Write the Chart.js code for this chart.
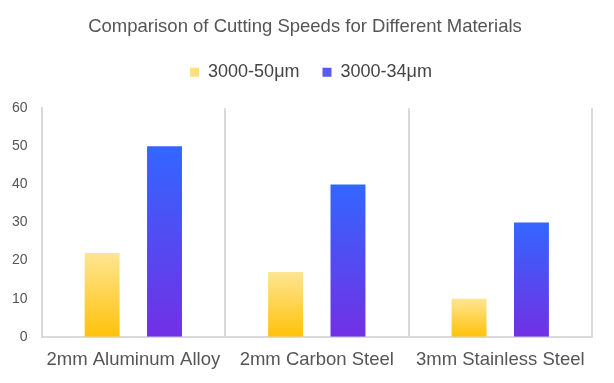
<!DOCTYPE html>
<html><head><meta charset="utf-8">
<script src="https://cdn.jsdelivr.net/npm/chart.js@4/dist/chart.umd.min.js"></script>
<style>html,body{margin:0;padding:0;background:#fff}#wrap{width:614px;height:383px}</style>
</head><body><div id="wrap"><canvas id="c"></canvas></div>
<script>
const categories = ["2mm Aluminum Alloy", "2mm Carbon Steel", "3mm Stainless Steel"];
const seriesNames = ["3000-50μm", "3000-34μm"];
const values50 = [22, 17, 10];
const values34 = [50, 40, 30];
const yTicks = [0, 10, 20, 30, 40, 50, 60];

const FONT = 'Liberation Sans, Arial, sans-serif';

function grad(top, bottom) {
  return function(context) {
    const chart = context.chart;
    const ys = chart.scales.y;
    if (!ys || context.type !== 'data') return bottom;
    const v = context.raw;
    const y0 = ys.getPixelForValue(0), y1 = ys.getPixelForValue(v);
    if (!isFinite(y0) || !isFinite(y1) || y0 === y1) return bottom;
    const g = chart.ctx.createLinearGradient(0, y1, 0, y0);
    g.addColorStop(0, top);
    g.addColorStop(1, bottom);
    return g;
  };
}

const legendMargin = {
  id: 'legendMargin',
  beforeInit(chart) {
    const fit = chart.legend.fit;
    chart.legend.fit = function() { fit.bind(chart.legend)(); this.height += 17; };
  },
  afterLayout(chart) {
    chart.legend.left += 12;
    chart.legend.right += 12;
    const t = chart.titleBlock;
    if (t) { t.left += 6; t.right += 6; }
  }
};

new Chart(document.getElementById('c'), {
  type: 'bar',
  data: {
    labels: categories,
    datasets: [
      { label: seriesNames[0], data: values50, backgroundColor: grad('#fee591', '#ffc20a'), categoryPercentage: 0.68, barPercentage: 0.56 },
      { label: seriesNames[1], data: values34, backgroundColor: grad('#3366ff', '#7230e4'), categoryPercentage: 0.68, barPercentage: 0.56 }
    ]
  },
  options: {
    responsive: true,
    maintainAspectRatio: false,
    animation: false,
    layout: { padding: { left: 6, right: 22, top: 0, bottom: 0 } },
    plugins: {
      title: { display: true, text: 'Comparison of Cutting Speeds for Different Materials', color: '#555', font: { family: FONT, size: 18.5, weight: 'normal' }, padding: { top: 16, bottom: 2 } },
      legend: {
        labels: {
          color: '#444', font: { family: FONT, size: 18 }, boxWidth: 9, boxHeight: 9, padding: 23,
          generateLabels: function(chart) {
            const cols = ['#fddf80', '#5a5af2'];
            return chart.data.datasets.map((d, i) => ({ text: d.label, fillStyle: cols[i], strokeStyle: cols[i], lineWidth: 0, datasetIndex: i, fontColor: '#444' }));
          }
        }
      },
      tooltip: { enabled: false }
    },
    scales: {
      x: {
        grid: { display: true, offset: true, color: '#d9d9d9', lineWidth: 2, drawTicks: false },
        border: { display: true, color: '#d9d9d9', width: 2 },
        ticks: { color: '#555', font: { family: FONT, size: 18.5 }, padding: 12 }
      },
      y: {
        min: 0, max: 60,
        afterBuildTicks: function(axis) { axis.ticks = yTicks.map(v => ({ value: v })); },
        grid: { display: false },
        border: { display: true, color: '#d9d9d9', width: 2 },
        ticks: { color: '#555', font: { family: FONT, size: 14 }, padding: 6 }
      }
    }
  },
  plugins: [legendMargin]
});
</script></body></html>
